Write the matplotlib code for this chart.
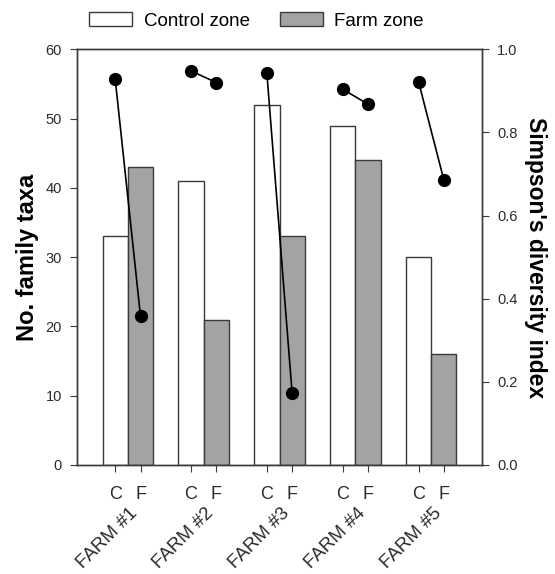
"""
    Family taxa counts and Simpson's diversity for control vs farm zones.
"""


# ------ Environment Setup ------ #
import numpy as np
import matplotlib
matplotlib.use("Agg")
import matplotlib.pyplot as plt
from matplotlib.patches import Patch
from matplotlib.transforms import blended_transform_factory

plt.rcParams["font.family"] = ["Liberation Sans", "DejaVu Sans"]


# ------ Data ------ #
farms = ["FARM #1", "FARM #2", "FARM #3", "FARM #4", "FARM #5"]
zone_labels = ["C", "F"]
control_taxa = [33, 41, 52, 49, 30]
farm_taxa = [43, 21, 33, 44, 16]
control_simpson = [0.928, 0.948, 0.942, 0.904, 0.922]
farm_simpson = [0.358, 0.920, 0.172, 0.868, 0.686]


# ------ Plotting ------ #
text_col = "#2b2b2b"
edge_col = "#3a3a3a"
gray_fill = "#a3a3a3"

fig = plt.figure(figsize=(5.55, 5.74), dpi=100)
ax = fig.add_axes([0.1393, 0.1899, 0.7287, 0.7242])

x = np.arange(1, len(farms) + 1)
w = 1 / 3

# bars
ax.bar(x - w / 2, control_taxa, width=w, color="white", edgecolor=edge_col, linewidth=1.0)
ax.bar(x + w / 2, farm_taxa, width=w, color=gray_fill, edgecolor=edge_col, linewidth=1.0)

ax.set_xlim(x[0] - 2 * w, x[-1] + 2 * w)
ax.set_ylim(0, 60)
ax.set_yticks(np.arange(0, 61, 10))

# C / F ticks under each bar
tick_pos = np.ravel(np.column_stack([x - w / 2, x + w / 2]))
ax.set_xticks(tick_pos)
ax.set_xticklabels(zone_labels * len(farms), fontsize=13, color=text_col)
ax.tick_params(axis="x", direction="out", length=5, pad=10, color=edge_col)
ax.tick_params(axis="y", direction="out", length=5, pad=6, labelsize=10.5,
               labelcolor=text_col, color=edge_col)

# farm names, rotated
trans = blended_transform_factory(ax.transData, ax.transAxes)
for xi, name in zip(x, farms):
    ax.text(xi + w / 2 + 0.01, -0.095, name, transform=trans, rotation=45,
            ha="right", va="top", fontsize=13.5, color=text_col)

ax.set_ylabel("No. family taxa", fontsize=17, fontweight="bold", color="black",
              va="bottom")
ax.yaxis.set_label_coords(-0.094, 0.5)

# diversity index on secondary axis
ax2 = ax.twinx()
for xi, c, f in zip(x, control_simpson, farm_simpson):
    ax2.plot([xi - w / 2, xi + w / 2], [c, f], color="black", linewidth=1.2,
             marker="o", markersize=8.5)
ax2.set_ylim(0, 1)
ax2.set_yticks(np.arange(0, 1.01, 0.2))
ax2.set_yticklabels([f"{v:.1f}" for v in np.arange(0, 1.01, 0.2)])
ax2.tick_params(axis="y", direction="out", length=5, pad=6, labelsize=10.5,
                labelcolor=text_col, color=edge_col)
ax2.set_ylabel("Simpson's diversity index", fontsize=16.5, fontweight="bold",
               rotation=-90, va="bottom")
ax2.yaxis.set_label_coords(1.105, 0.5)

for a in (ax, ax2):
    for sp in a.spines.values():
        sp.set_color(edge_col)
        sp.set_linewidth(1.0)

# legend
handles = [Patch(facecolor="white", edgecolor=edge_col, label="Control zone"),
           Patch(facecolor=gray_fill, edgecolor=edge_col, label="Farm zone")]
fig.legend(handles=handles, loc="center", bbox_to_anchor=(0.462, 1 - 21 / 574),
           ncol=2, frameon=False, fontsize=13.5, handlelength=2.3, handleheight=0.75,
           handletextpad=0.6, columnspacing=1.6)

plt.savefig("out.png", dpi=100)
